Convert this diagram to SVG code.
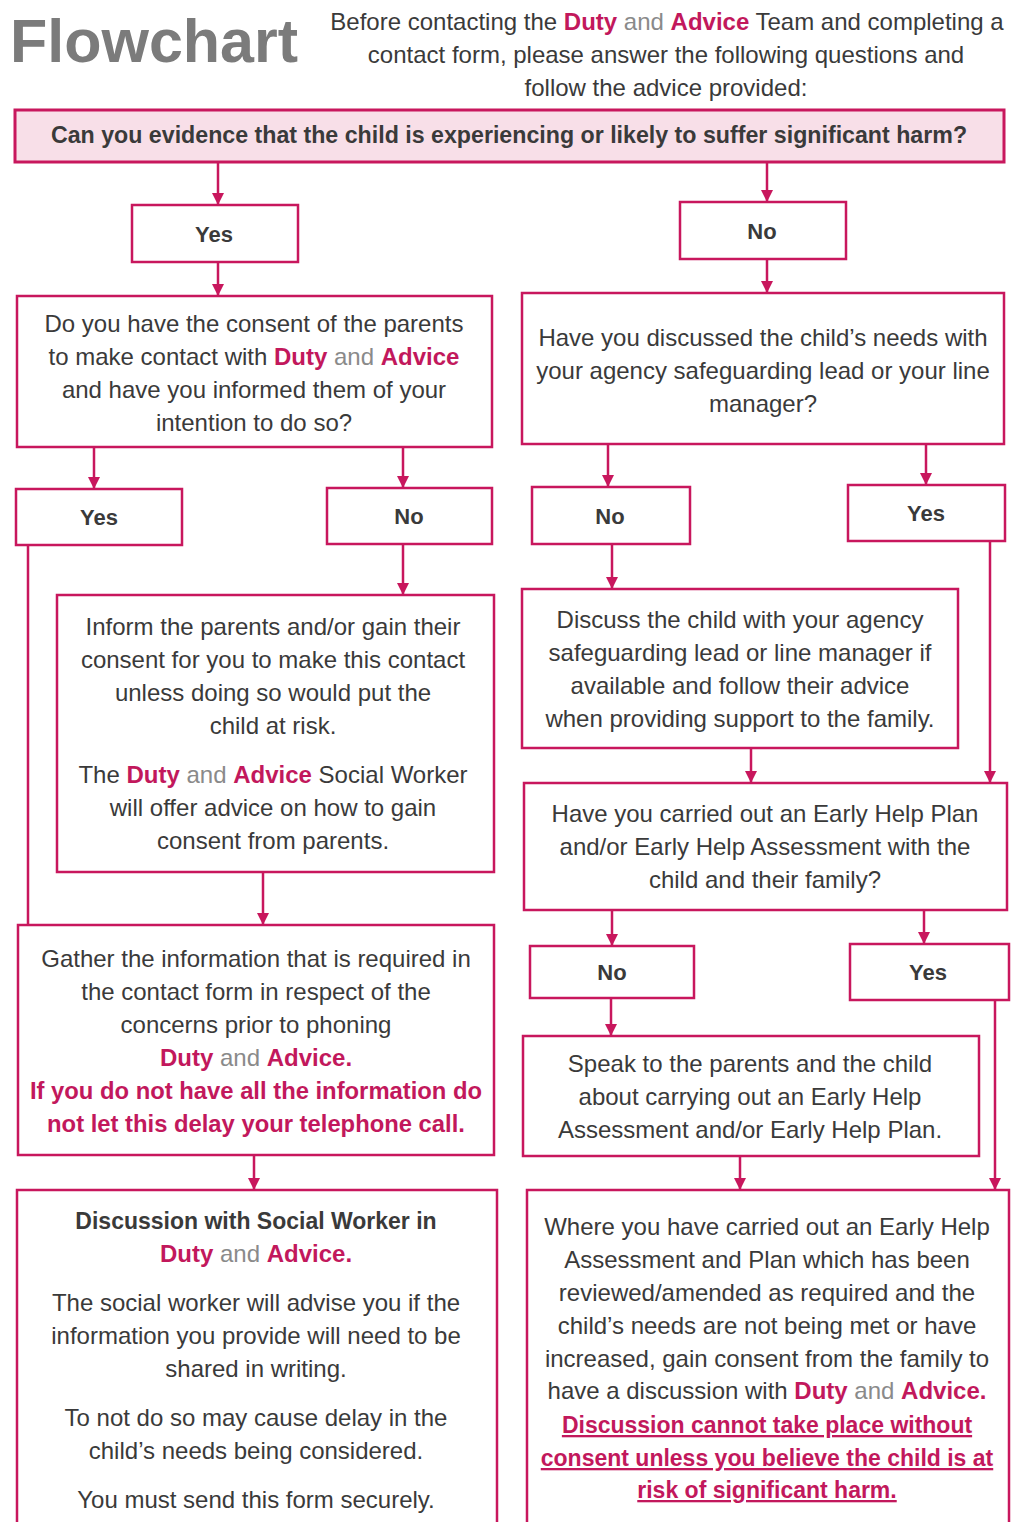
<svg xmlns="http://www.w3.org/2000/svg" width="1013" height="1522" viewBox="0 0 1013 1522">
<defs>
<style>
.box{fill:#fff;stroke:#c8175d;stroke-width:2.5}
.top{fill:#f8dfe8;stroke:#c8175d;stroke-width:3}
.ln{stroke:#c8175d;stroke-width:2.5;fill:none}
.t{font-family:"Liberation Sans",Arial,sans-serif;font-size:24px;fill:#3a3a3a;text-anchor:middle}
.h{font-family:"Liberation Sans",Arial,sans-serif;font-size:24px;fill:#3a3a3a;text-anchor:middle}
.yn{font-size:22px;font-weight:bold}
.b{font-weight:bold}
.m{fill:#c2185c;font-weight:bold}
.g{fill:#8a8a8a;font-weight:normal}
.u{text-decoration:underline}
</style>
<marker id="arr" viewBox="0 0 10 10" refX="10" refY="5" markerWidth="12" markerHeight="12" markerUnits="userSpaceOnUse" orient="auto">
<path d="M0,0 L10,5 L0,10 z" fill="#c8175d"/>
</marker>
</defs>
<rect width="1013" height="1522" fill="#fff"/>

<g id="header">
<text x="10" y="62" font-family="'Liberation Sans',Arial,sans-serif" font-size="61" font-weight="bold" fill="#7b7b7b">Flowchart</text>
<text class="h" x="667" y="30">Before contacting the <tspan class="m">Duty</tspan> <tspan class="g">and</tspan> <tspan class="m">Advice</tspan> Team and completing a</text>
<text class="h" x="666" y="63">contact form, please answer the following questions and</text>
<text class="h" x="666" y="96">follow the advice provided:</text>
</g>

<g id="q1">
<rect class="top" x="15" y="110" width="989" height="52"/>
<text class="t b" x="509" y="143" style="font-size:23.2px">Can you evidence that the child is experiencing or likely to suffer significant harm?</text>
</g>

<g id="yes1"><rect class="box" x="132" y="205" width="166" height="57"/><text class="t yn" x="214" y="242">Yes</text></g>
<g id="no1"><rect class="box" x="680" y="202" width="166" height="57"/><text class="t yn" x="762" y="239">No</text></g>

<g id="q2">
<rect class="box" x="17" y="296" width="475" height="151"/>
<text class="t" x="254" y="332">Do you have the consent of the parents</text>
<text class="t" x="254" y="365">to make contact with <tspan class="m">Duty</tspan> <tspan class="g">and</tspan> <tspan class="m">Advice</tspan></text>
<text class="t" x="254" y="398">and have you informed them of your</text>
<text class="t" x="254" y="431">intention to do so?</text>
</g>

<g id="q3">
<rect class="box" x="522" y="293" width="482" height="151"/>
<text class="t" x="763" y="346">Have you discussed the child’s needs with</text>
<text class="t" x="763" y="379">your agency safeguarding lead or your line</text>
<text class="t" x="763" y="412">manager?</text>
</g>

<g id="yes2"><rect class="box" x="16" y="489" width="166" height="56"/><text class="t yn" x="99" y="525">Yes</text></g>
<g id="no2"><rect class="box" x="327" y="488" width="165" height="56"/><text class="t yn" x="409" y="524">No</text></g>
<g id="no3"><rect class="box" x="532" y="487" width="158" height="57"/><text class="t yn" x="610" y="524">No</text></g>
<g id="yes3"><rect class="box" x="848" y="485" width="157" height="56"/><text class="t yn" x="926" y="521">Yes</text></g>

<g id="inform">
<rect class="box" x="57" y="595" width="437" height="277"/>
<text class="t" x="273" y="635">Inform the parents and/or gain their</text>
<text class="t" x="273" y="668">consent for you to make this contact</text>
<text class="t" x="273" y="701">unless doing so would put the</text>
<text class="t" x="273" y="734">child at risk.</text>
<text class="t" x="273" y="783">The <tspan class="m">Duty</tspan> <tspan class="g">and</tspan> <tspan class="m">Advice</tspan> Social Worker</text>
<text class="t" x="273" y="816">will offer advice on how to gain</text>
<text class="t" x="273" y="849">consent from parents.</text>
</g>

<g id="discuss">
<rect class="box" x="522" y="589" width="436" height="159"/>
<text class="t" x="740" y="628">Discuss the child with your agency</text>
<text class="t" x="740" y="661">safeguarding lead or line manager if</text>
<text class="t" x="740" y="694">available and follow their advice</text>
<text class="t" x="740" y="727">when providing support to the family.</text>
</g>

<g id="q4">
<rect class="box" x="524" y="783" width="483" height="127"/>
<text class="t" x="765" y="822">Have you carried out an Early Help Plan</text>
<text class="t" x="765" y="855">and/or Early Help Assessment with the</text>
<text class="t" x="765" y="888">child and their family?</text>
</g>

<g id="gather">
<rect class="box" x="18" y="925" width="476" height="230"/>
<text class="t" x="256" y="967">Gather the information that is required in</text>
<text class="t" x="256" y="1000">the contact form in respect of the</text>
<text class="t" x="256" y="1033">concerns prior to phoning</text>
<text class="t" x="256" y="1066"><tspan class="m">Duty</tspan> <tspan class="g">and</tspan> <tspan class="m">Advice.</tspan></text>
<text class="t m" x="256" y="1099" style="font-size:23.8px">If you do not have all the information do</text>
<text class="t m" x="256" y="1132" style="font-size:23.8px">not let this delay your telephone call.</text>
</g>

<g id="no4"><rect class="box" x="530" y="946" width="164" height="52"/><text class="t yn" x="612" y="980">No</text></g>
<g id="yes4"><rect class="box" x="850" y="944" width="159" height="56"/><text class="t yn" x="928" y="980">Yes</text></g>

<g id="speak">
<rect class="box" x="523" y="1036" width="456" height="120"/>
<text class="t" x="750" y="1072">Speak to the parents and the child</text>
<text class="t" x="750" y="1105">about carrying out an Early Help</text>
<text class="t" x="750" y="1138">Assessment and/or Early Help Plan.</text>
</g>

<g id="socialworker">
<rect class="box" x="17" y="1190" width="480" height="340"/>
<text class="t b" x="256" y="1229" style="font-size:23px">Discussion with Social Worker in</text>
<text class="t" x="256" y="1262"><tspan class="m">Duty</tspan> <tspan class="g">and</tspan> <tspan class="m">Advice.</tspan></text>
<text class="t" x="256" y="1311">The social worker will advise you if the</text>
<text class="t" x="256" y="1344">information you provide will need to be</text>
<text class="t" x="256" y="1377">shared in writing.</text>
<text class="t" x="256" y="1426">To not do so may cause delay in the</text>
<text class="t" x="256" y="1459">child’s needs being considered.</text>
<text class="t" x="256" y="1508">You must send this form securely.</text>
</g>

<g id="earlyhelp">
<rect class="box" x="527" y="1190" width="482" height="340"/>
<text class="t" x="767" y="1235">Where you have carried out an Early Help</text>
<text class="t" x="767" y="1268">Assessment and Plan which has been</text>
<text class="t" x="767" y="1301">reviewed/amended as required and the</text>
<text class="t" x="767" y="1334">child’s needs are not being met or have</text>
<text class="t" x="767" y="1367">increased, gain consent from the family to</text>
<text class="t" x="767" y="1399">have a discussion with <tspan class="m">Duty</tspan> <tspan class="g">and</tspan> <tspan class="m">Advice.</tspan></text>
<text class="t m u" x="767" y="1433" style="font-size:23px">Discussion cannot take place without</text>
<text class="t m u" x="767" y="1466" style="font-size:23px">consent unless you believe the child is at</text>
<text class="t m u" x="767" y="1498" style="font-size:23px">risk of significant harm.</text>
</g>

<g id="connectors">
<path class="ln" d="M218,162 V205" marker-end="url(#arr)"/>
<path class="ln" d="M767,162 V202" marker-end="url(#arr)"/>
<path class="ln" d="M218,262 V296" marker-end="url(#arr)"/>
<path class="ln" d="M767,259 V293" marker-end="url(#arr)"/>
<path class="ln" d="M94,447 V489" marker-end="url(#arr)"/>
<path class="ln" d="M403,447 V488" marker-end="url(#arr)"/>
<path class="ln" d="M608,444 V487" marker-end="url(#arr)"/>
<path class="ln" d="M926,444 V485" marker-end="url(#arr)"/>
<path class="ln" d="M28,545 V925"/>
<path class="ln" d="M403,544 V595" marker-end="url(#arr)"/>
<path class="ln" d="M612,544 V589" marker-end="url(#arr)"/>
<path class="ln" d="M990,541 V783" marker-end="url(#arr)"/>
<path class="ln" d="M751,748 V783" marker-end="url(#arr)"/>
<path class="ln" d="M263,872 V925" marker-end="url(#arr)"/>
<path class="ln" d="M612,910 V946" marker-end="url(#arr)"/>
<path class="ln" d="M924,910 V944" marker-end="url(#arr)"/>
<path class="ln" d="M611,998 V1036" marker-end="url(#arr)"/>
<path class="ln" d="M995,1000 V1190" marker-end="url(#arr)"/>
<path class="ln" d="M740,1156 V1190" marker-end="url(#arr)"/>
<path class="ln" d="M254,1155 V1190" marker-end="url(#arr)"/>
</g>
</svg>
